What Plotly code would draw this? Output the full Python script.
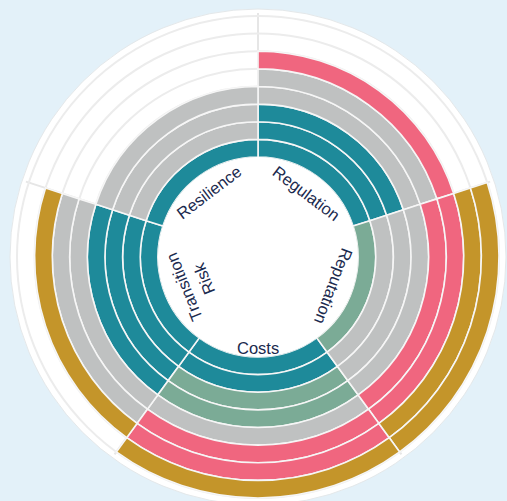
import math
import plotly.graph_objects as go

categories = ["Regulation", "Reputation", "Costs", "Transition Risk", "Resilience"]
label_texts = ["Regulation", "Reputation", "Costs", "Transition<br>Risk", "Resilience"]
series_names = ["Level 1", "Level 2", "Level 3", "Level 4", "Level 5"]
series_colors = ["#1e8a9a", "#7bab96", "#bfc1c1", "#f0667f", "#c4952a"]
teal_vals = [3, 0, 2, 4, 1]
green_vals = [0, 1, 2, 0, 0]
gray_vals = [2, 3, 1, 2, 3]
pink_vals = [1, 2, 2, 0, 0]
gold_vals = [0, 2, 1, 1, 0]
series_values = [teal_vals, green_vals, gray_vals, pink_vals, gold_vals]

W, H = 507, 501
n = len(categories)
seg = 360 / n
centers = [seg * i + seg / 2 for i in range(n)]
bounds = [seg * i for i in range(n)]

# geometry (pixels)
cx, cy = 258, 257
R = 244          # polar outer radius
hole_px = 100
ring = 17.625
rmax = 8 + (R - hole_px - 8 * ring) / ring

fig = go.Figure()
cum = [0] * n
for name, color, vals in zip(series_names, series_colors, series_values):
    th, base, rr, hv = [], [], [], []
    for i, v in enumerate(vals):
        for k in range(v):
            th.append(centers[i])
            base.append(cum[i] + k)
            rr.append(1)
            hv.append(categories[i])
        cum[i] += v
    fig.add_trace(go.Barpolar(
        r=rr, theta=th, base=base, width=[seg] * len(th), name=name,
        marker=dict(color=color, line=dict(color="#f6f6f6", width=1.6)),
        hovertext=hv, showlegend=False,
    ))

fig.update_layout(
    width=W, height=H,
    margin=dict(l=0, r=0, t=0, b=0),
    paper_bgcolor="#e3f1f9",
    polar=dict(
        domain=dict(x=[(cx - R) / W, (cx + R) / W], y=[(H - cy - R) / H, (H - cy + R) / H]),
        bgcolor="white",
        hole=hole_px / R,
        barmode="overlay",
        radialaxis=dict(range=[0, rmax], tickvals=list(range(1, 9)), showticklabels=False,
                        ticks="", showline=False, gridcolor="#ececec", gridwidth=1.5),
        angularaxis=dict(direction="clockwise", rotation=90, tickvals=bounds,
                         showticklabels=False, ticks="", showline=False,
                         gridcolor="#e6e6e6", gridwidth=1.5),
    ),
    shapes=[dict(type="circle", xref="paper", yref="paper", layer="below",
                 x0=(cx - 248) / W, x1=(cx + 248) / W,
                 y0=(H - cy - 248) / H, y1=(H - cy + 248) / H,
                 fillcolor="white", line=dict(color="#e4e8ea", width=1))],
)

label_angles = [37, 111, 180, 248, 323]
label_radii = [80, 81, 91, 69, 81]
text_angles = [37, 111, 0, -112, -37]
for txt, a, rr, ta in zip(label_texts, label_angles, label_radii, text_angles):
    px = cx + rr * math.sin(math.radians(a))
    py = cy - rr * math.cos(math.radians(a))
    fig.add_annotation(x=px / W, y=1 - py / H, xref="paper", yref="paper",
                       text=txt, showarrow=False, textangle=ta,
                       font=dict(family="Liberation Sans, Arial, sans-serif", size=16.5, color="#1b2a4e"),
                       xanchor="center", yanchor="middle")

fig.write_html("out.html", config={"displayModeBar": False},
               post_script="document.body.style.margin='0';document.body.style.overflow='hidden';")
